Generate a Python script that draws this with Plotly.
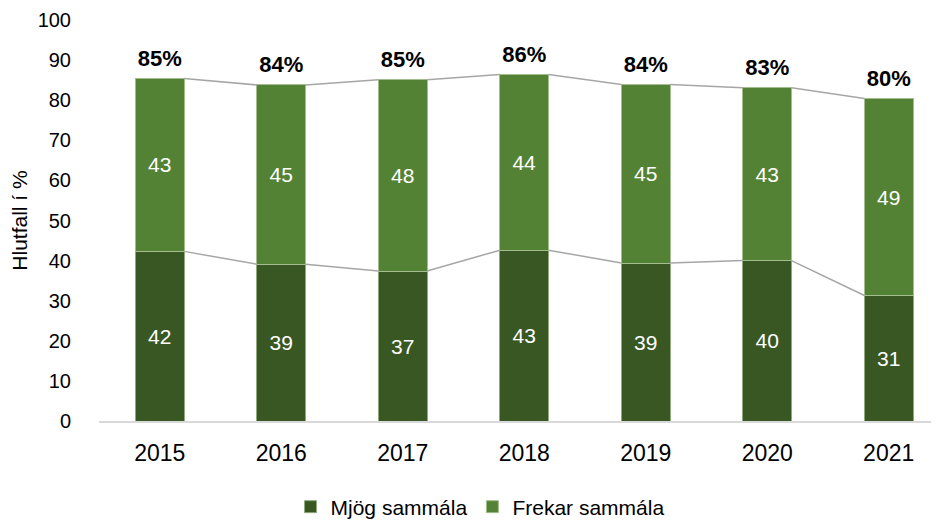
import plotly.graph_objects as go

# Data
years = ["2015", "2016", "2017", "2018", "2019", "2020", "2021"]
mjog_sammala = [42.3, 39.1, 37.4, 42.6, 39.4, 40.0, 31.3]
frekar_sammala = [43.1, 44.7, 47.7, 43.8, 44.5, 43.1, 49.1]

DARK_GREEN = "#385723"
LIGHT_GREEN = "#548235"
LINE_GREY = "#a6a6a6"
FONT = "Liberation Sans Narrow, Arial Narrow, Liberation Sans, Arial, sans-serif"
BAR_WIDTH = 0.4

xpos = list(range(len(years)))
totals = [a + b for a, b in zip(mjog_sammala, frekar_sammala)]


def series_line(values):
    # connect right edge of each bar top to left edge of the next one
    xs, ys = [], []
    for i in range(len(values) - 1):
        xs += [xpos[i] + BAR_WIDTH / 2, xpos[i + 1] - BAR_WIDTH / 2, None]
        ys += [values[i], values[i + 1], None]
    return xs, ys


fig = go.Figure()

fig.add_trace(go.Bar(
    x=xpos, y=mjog_sammala, name="Mjög sammála", width=BAR_WIDTH,
    marker=dict(color=DARK_GREEN, line=dict(width=1, color="#8fa97c")),
    texttemplate="%{y:.0f}", textposition="inside", insidetextanchor="middle",
    textfont=dict(color="white", size=21, family=FONT),
))
fig.add_trace(go.Bar(
    x=xpos, y=frekar_sammala, name="Frekar sammála", width=BAR_WIDTH,
    marker=dict(color=LIGHT_GREEN, line=dict(width=1, color="#a3bd8e")),
    texttemplate="%{y:.0f}", textposition="inside", insidetextanchor="middle",
    textfont=dict(color="white", size=21, family=FONT),
))

# series lines
for vals in (mjog_sammala, totals):
    lx, ly = series_line(vals)
    fig.add_trace(go.Scatter(
        x=lx, y=ly, mode="lines", line=dict(color=LINE_GREY, width=1.5),
        showlegend=False, hoverinfo="skip",
    ))

# total labels (invisible marker pushes the text a bit above the bar)
fig.add_trace(go.Scatter(
    x=xpos, y=totals, mode="markers+text",
    marker=dict(size=10, opacity=0),
    text=[f"<b>{t:.0f}%</b>" for t in totals],
    textposition="top center",
    textfont=dict(color="black", size=22, family=FONT),
    showlegend=False, hoverinfo="skip",
))

# page body has an 8px margin, so the figure is sized to what stays visible
fig.update_layout(
    barmode="stack",
    width=931, height=516,
    paper_bgcolor="white", plot_bgcolor="white",
    font=dict(family=FONT, color="black", size=20),
    margin=dict(l=91, r=0, t=12, b=103, autoexpand=False),
    xaxis=dict(
        tickvals=xpos, ticktext=years, range=[-0.5, 6.414],
        showgrid=False, zeroline=False, automargin=False,
        showline=True, linecolor="#d9d9d9", linewidth=2,
        ticks="outside", ticklen=10, tickcolor="rgba(0,0,0,0)",
        tickfont=dict(size=23),
    ),
    yaxis=dict(
        range=[0, 100], dtick=10, showgrid=False, zeroline=False, automargin=False,
        ticks="outside", ticklen=23, tickcolor="rgba(0,0,0,0)",
        tickfont=dict(size=20),
        title=dict(text="Hlutfall í %", font=dict(size=21), standoff=4),
    ),
    legend=dict(
        orientation="h", x=0.4536, xanchor="center", y=-0.2145, yanchor="middle",
        font=dict(size=21), traceorder="normal", itemwidth=30,
    ),
    showlegend=True,
)

fig.write_html("out.html")
